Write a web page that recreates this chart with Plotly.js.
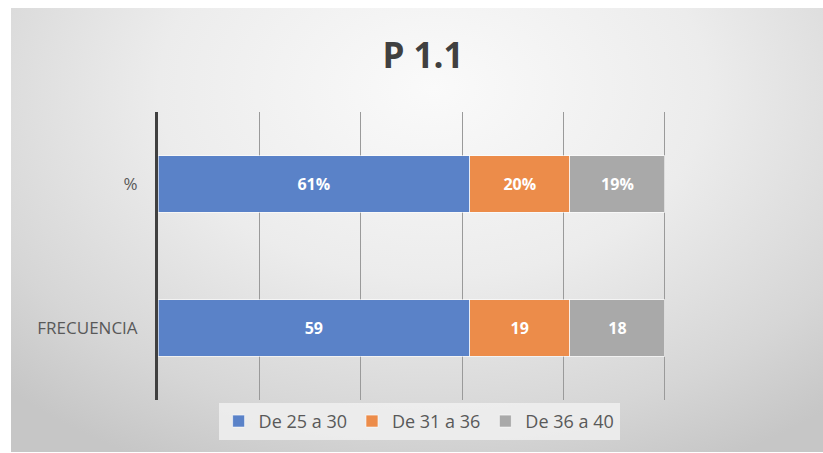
<!DOCTYPE html>
<html>
<head>
<meta charset="utf-8">
<script src="https://cdn.plot.ly/plotly-3.0.1.min.js"></script>
<style>
html,body{margin:0;padding:0;background:#fff;}
#bg{position:absolute;left:11px;top:8px;width:812px;height:444px;
background:radial-gradient(ellipse 75% 95% at 52% 18%, #fafafa 0%, #ececec 45%, #d6d6d6 80%, #c6c6c6 100%);}
#chart{position:absolute;left:0;top:0;width:823px;height:453px;}
</style>
</head>
<body>
<div id="bg"></div>
<div id="chart"></div>
<script>
const categories = ['FRECUENCIA', '%'];
const seriesNames = ['De 25 a 30', 'De 31 a 36', 'De 36 a 40'];
const frecuencia = [59, 19, 18];
const porcentaje = [61.46, 19.79, 18.75];
const colors = ['#5a82c8', '#ec8c4a', '#a9a9a9'];

const traces = seriesNames.map((name, i) => ({
  type: 'bar',
  orientation: 'h',
  name: name,
  y: categories,
  x: [frecuencia[i], porcentaje[i]],
  text: [String(frecuencia[i]), Math.round(porcentaje[i]) + '%'],
  textposition: 'inside',
  insidetextanchor: 'middle',
  textfont: {family: 'Open Sans, sans-serif', size: 16, color: '#ffffff', weight: 'bold'},
  marker: {color: colors[i], line: {color: 'rgba(255,255,255,0.6)', width: 1}},
  hoverinfo: 'none'
}));

const layout = {
  width: 823, height: 453,
  paper_bgcolor: 'rgba(0,0,0,0)',
  plot_bgcolor: 'rgba(0,0,0,0)',
  margin: {l: 158, r: 157, t: 112, b: 53},
  barmode: 'stack',
  barnorm: 'fraction',
  bargap: 0.61,
  title: {text: '<b>P 1.1</b>', x: 0.514, xanchor: 'center', y: 0.878, yanchor: 'middle',
    font: {family: 'Open Sans, sans-serif', size: 35, color: '#404040'}},
  xaxis: {range: [0, 1.002], dtick: 0.2, showticklabels: false, showgrid: true,
    gridcolor: '#9a9a9a', gridwidth: 1, zeroline: false, showline: false, fixedrange: true},
  yaxis: {type: 'category', categoryorder: 'array', categoryarray: categories,
    showline: true, linecolor: '#404040', linewidth: 3, showgrid: false,
    ticks: '', ticklabelstandoff: 14,
    tickfont: {family: 'Open Sans, sans-serif', size: 17, color: '#595959'}},
  showlegend: true,
  legend: {orientation: 'h', x: 0.514, xanchor: 'center', y: -0.01, yanchor: 'top',
    bgcolor: 'rgba(240,240,240,0.85)', borderwidth: 0,
    font: {family: 'Open Sans, sans-serif', size: 18, color: '#595959'},
    traceorder: 'normal', itemwidth: 30}
};

Plotly.newPlot('chart', traces, layout, {displayModeBar: false, staticPlot: true});
</script>
</body>
</html>
